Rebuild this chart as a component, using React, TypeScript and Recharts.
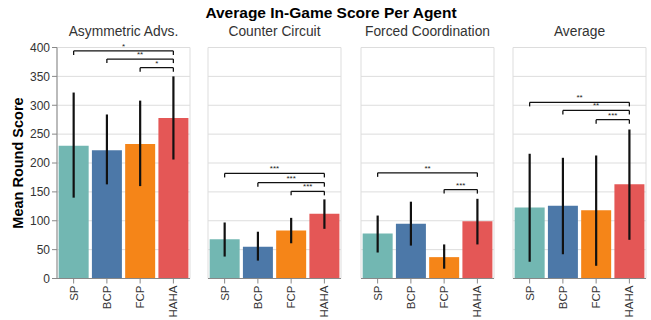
import { BarChart, Bar, Cell, XAxis, YAxis, CartesianGrid, ErrorBar, ReferenceLine } from 'recharts';

const agents = ['SP', 'BCP', 'FCP', 'HAHA'];
const agentColors = ['#72b7b2', '#4c78a8', '#f58518', '#e45756'];
const panelTitles = ['Asymmetric Advs.', 'Counter Circuit', 'Forced Coordination', 'Average'];
const yTicks = [0, 50, 100, 150, 200, 250, 300, 350, 400];

const meanScores = [
  [230, 222, 233, 278],
  [68, 55, 83, 112],
  [78, 95, 37, 99],
  [123, 126, 118, 163],
];
const lowScores = [
  [140, 163, 160, 206],
  [38, 31, 61, 86],
  [45, 57, 17, 59],
  [29, 42, 22, 67],
];
const highScores = [
  [322, 284, 308, 350],
  [97, 81, 105, 137],
  [109, 133, 59, 138],
  [216, 209, 213, 258],
];

// significance brackets: [from, to, height, stars]
const brackets: [string, string, number, string][][] = [
  [['SP', 'HAHA', 394, '*'], ['BCP', 'HAHA', 380, '**'], ['FCP', 'HAHA', 365, '*']],
  [['SP', 'HAHA', 182, '***'], ['BCP', 'HAHA', 166, '***'], ['FCP', 'HAHA', 151, '***']],
  [['SP', 'HAHA', 183, '**'], ['FCP', 'HAHA', 154, '***']],
  [['SP', 'HAHA', 305, '**'], ['BCP', 'HAHA', 291, '**'], ['FCP', 'HAHA', 275, '***']],
];
const bracketDrop = 7;

const plotLefts = [57, 208, 361, 513];
const plotWidth = 133;
const leftPad = 45;
const FONT = '"Liberation Sans", Arial, Helvetica, sans-serif';

function AgentTick({ x, y, payload }: any) {
  return (
    <g transform={`translate(${x},${y})`}>
      <text transform="rotate(-90)" textAnchor="end" dy="0.35em" fontSize={11.5} fill="#333" fontFamily={FONT}>
        {payload.value}
      </text>
    </g>
  );
}

function Panel({ index }: { index: number }) {
  const data = agents.map((a, i) => ({
    agent: a,
    mean: meanScores[index][i],
    err: [meanScores[index][i] - lowScores[index][i], highScores[index][i] - meanScores[index][i]],
  }));
  const first = index === 0;
  return (
    <div style={{ position: 'absolute', left: plotLefts[index] - leftPad, top: 40 }}>
      <BarChart
        width={leftPad + plotWidth + 5}
        height={280}
        data={data}
        margin={{ top: 7.5, right: 5, bottom: 0, left: first ? 0 : leftPad }}
        barCategoryGap="5%"
      >
        <CartesianGrid stroke="#ddd" verticalPoints={[leftPad, leftPad + plotWidth]} />
        <XAxis
          dataKey="agent"
          height={41.5}
          stroke="#888"
          tickSize={5}
          tick={<AgentTick />}
          interval={0}
        />
        <YAxis
          hide={!first}
          width={leftPad}
          domain={[0, 400]}
          ticks={yTicks}
          stroke="#888"
          tickSize={5}
          tickMargin={2}
          tick={{ fontSize: 12, fill: '#333', fontFamily: FONT }}
        />
        <Bar dataKey="mean" isAnimationActive={false}>
          {agents.map((a, i) => (
            <Cell key={a} fill={agentColors[i]} />
          ))}
          <ErrorBar dataKey="err" width={0} stroke="#111" strokeWidth={2.2} direction="y" />
        </Bar>
        {brackets[index].map(([from, to, h, stars], k) => [
          <ReferenceLine
            key={`h${k}`}
            segment={[{ x: from, y: h }, { x: to, y: h }]}
            stroke="#111"
            strokeWidth={1.3}
            ifOverflow="visible"
            label={{ value: stars, position: 'top', offset: 2, fontSize: 8, fill: '#222', fontFamily: FONT }}
          />,
          <ReferenceLine
            key={`a${k}`}
            segment={[{ x: from, y: h }, { x: from, y: h - bracketDrop }]}
            stroke="#111"
            strokeWidth={1.3}
            ifOverflow="visible"
          />,
          <ReferenceLine
            key={`b${k}`}
            segment={[{ x: to, y: h }, { x: to, y: h - bracketDrop }]}
            stroke="#111"
            strokeWidth={1.3}
            ifOverflow="visible"
          />,
        ])}
      </BarChart>
    </div>
  );
}

export default function App() {
  return (
    <div style={{ position: 'absolute', left: 0, top: 0, width: 651, height: 320, background: '#fff', fontFamily: FONT }}>
      <svg width={651} height={320} style={{ position: 'absolute', left: 0, top: 0 }}>
        <text x={331} y={18} textAnchor="middle" fontSize={15.5} fontWeight="bold" fill="#000" fontFamily={FONT}>
          Average In-Game Score Per Agent
        </text>
        {panelTitles.map((t, i) => (
          <text key={t} x={plotLefts[i] + plotWidth / 2} y={35.5} textAnchor="middle" fontSize={13.8} fill="#333" fontFamily={FONT}>
            {t}
          </text>
        ))}
        <text
          transform="translate(23,163) rotate(-90)"
          textAnchor="middle"
          fontSize={14.5}
          fontWeight="bold"
          fill="#000"
          fontFamily={FONT}
        >
          Mean Round Score
        </text>
      </svg>
      {panelTitles.map((t, i) => (
        <Panel key={t} index={i} />
      ))}
    </div>
  );
}
